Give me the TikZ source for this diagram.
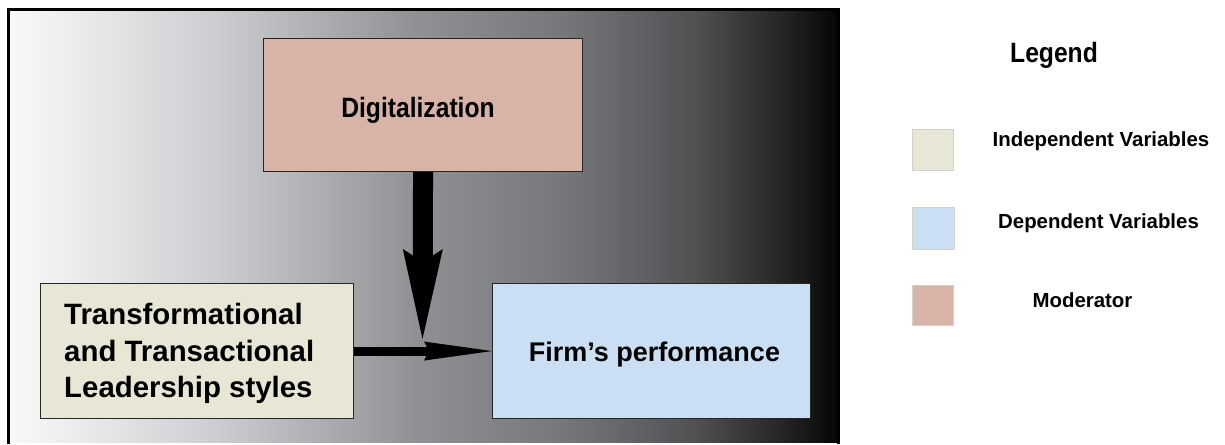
\documentclass[tikz,border=0pt]{standalone}
\usepackage{fontspec}
\setmainfont{Liberation Sans}
\usepackage{graphicx}
\usetikzlibrary{arrows.meta}

% panel background ramp, light grey on the left to black on the right
\definecolor{g0}{HTML}{F9F9F9}
\definecolor{g1}{HTML}{E4E5E7}
\definecolor{g2}{HTML}{CCCDD0}
\definecolor{g3}{HTML}{909195}
\definecolor{g4}{HTML}{76777B}
\definecolor{g5}{HTML}{505053}
\definecolor{g6}{HTML}{262627}
\definecolor{g7}{HTML}{050505}
\pgfdeclarehorizontalshading{panelshade}{100bp}{color(0bp)=(g0); color(25bp)=(g0); color(31bp)=(g1); color(37.5bp)=(g2); color(49.5bp)=(g3); color(58.5bp)=(g4); color(66.5bp)=(g5); color(71.5bp)=(g6); color(75bp)=(g7); color(100bp)=(g7)}

% variable colours
\definecolor{indepfill}{HTML}{E8E6D4}
\definecolor{depfill}{HTML}{CADFF3}
\definecolor{modfill}{HTML}{D8B3A7}
\definecolor{keyedge}{HTML}{D2D2CA}

\begin{document}
\begin{tikzpicture}[x=1pt,y=-1pt,
  varbox/.style={draw=black!85, line width=1.1pt, inner sep=0pt, anchor=north west},
  keybox/.style={draw=keyedge, line width=0.8pt, inner sep=0pt, anchor=north west, minimum width=41pt, minimum height=41pt},
  headtext/.style={font=\bfseries\fontsize{28}{32}\selectfont, inner sep=0pt, anchor=base},
  keytext/.style={font=\bfseries\fontsize{20.4}{24}\selectfont, inner sep=0pt, anchor=base},
  heavyarrow/.style={line width=20pt, -{Stealth[length=90pt,width=40pt,inset=13pt,line width=0pt]}},
  lightarrow/.style={line width=9pt, -{Stealth[length=68pt,width=19pt,inset=5pt,line width=0pt]}}
]
\useasboundingbox (0,0) rectangle (1225,444);

% shaded panel holding the model
\shade[shading=panelshade] (8.5,9.5) rectangle (838.5,442);
\draw[line width=2.5pt] (8.5,444) |- (838.5,9.5) -- (838.5,444);

% model boxes
\node[varbox, fill=modfill, minimum width=319pt, minimum height=133pt] (dig) at (263,38) {};
\node[varbox, fill=indepfill, minimum width=313pt, minimum height=135pt] (lead) at (40,283) {};
\node[varbox, fill=depfill, minimum width=318pt, minimum height=135pt] (perf) at (492,283) {};

\node[headtext] (digtxt) at (418,117.3) {\scalebox{0.88}[1]{Digitalization}};
\node[font=\bfseries\fontsize{29.4}{36.3}\selectfont, align=left, anchor=west, inner sep=0pt] (leadtxt) at (64,353.5)
  {Transformational\\and Transactional\\Leadership styles};
\node[font=\bfseries\fontsize{27}{32}\selectfont, inner sep=0pt, anchor=base] (perftxt) at (654.5,361) {Firm’s performance};

% connectors
\coordinate (meet) at (422.5,339);
\draw[lightarrow] (lead.east) -- (perf.west);
\draw[heavyarrow] (dig.south) -- (meet);

% legend
\node[headtext] (legtitle) at (1054,62.3) {\scalebox{0.88}[1]{Legend}};
\node[keybox, fill=indepfill] (keyind) at (912,129) {};
\node[keybox, fill=depfill, minimum width=42pt, minimum height=42pt] (keydep) at (912,207) {};
\node[keybox, fill=modfill, minimum height=40pt] (keymod) at (912,285) {};
\node[keytext] (keyindtxt) at (1101,146.7) {Independent Variables};
\node[keytext] (keydeptxt) at (1098.5,228.3) {Dependent Variables};
\node[keytext] (keymodtxt) at (1082.5,307) {Moderator};
\end{tikzpicture}
\end{document}
